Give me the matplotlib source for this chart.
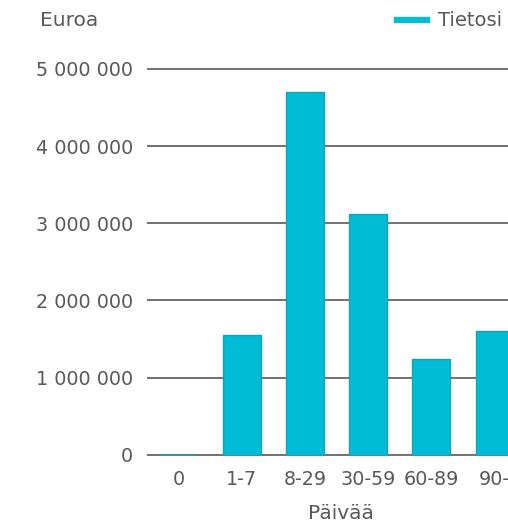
import matplotlib
matplotlib.use("Agg")
import matplotlib.pyplot as plt
from matplotlib.lines import Line2D

categories = ["0", "1-7", "8-29", "30-59", "60-89", "90-"]
values = [0, 1550000, 4700000, 3120000, 1245000, 1610000]
yticks = [0, 1000000, 2000000, 3000000, 4000000, 5000000]

bar_color = "#00bcd4"
text_color = "#595959"
grid_color = "#666666"

plt.rcParams["font.family"] = ["DejaVu Sans"]

fig = plt.figure(figsize=(5.08, 5.28), dpi=100)
ax = fig.add_axes([0.289, 0.1355, 0.711, 0.737])

x = range(len(categories))
ax.bar(x, values, width=0.6, color=bar_color, edgecolor="#1aa0b2", linewidth=1, zorder=3)

ax.set_xlim(-0.5, 5.21)
ax.set_ylim(-20000, 5020000)
ax.set_yticks(yticks)
ax.set_yticklabels([f"{v:,.0f}".replace(",", " ") for v in yticks])
ax.set_xticks(list(x))
ax.set_xticklabels(categories)
ax.tick_params(axis="both", length=0, labelsize=13.8, colors=text_color)
ax.tick_params(axis="y", pad=10)
ax.tick_params(axis="x", pad=10)

for s in ax.spines.values():
    s.set_visible(False)
ax.grid(axis="y", color=grid_color, linewidth=1.3, zorder=1)
ax.set_axisbelow(True)

ax.set_xlabel("Päivää", fontsize=14.5, color=text_color)
ax.xaxis.set_label_coords(0.538, -0.122)

fig.text(40 / 508, 1 - 20 / 528, "Euroa", fontsize=14.5, color=text_color, va="center", ha="left")

handle = Line2D([], [], color=bar_color, linewidth=4.5)
fig.legend(handles=[handle], labels=["Tietosi"], loc="center left",
           bbox_to_anchor=(397 / 508, 1 - 21 / 528), frameon=False,
           borderpad=0, borderaxespad=0, handlelength=1.55, handletextpad=0.55,
           fontsize=14, labelcolor=text_color)

fig.savefig("out.png", dpi=100)
